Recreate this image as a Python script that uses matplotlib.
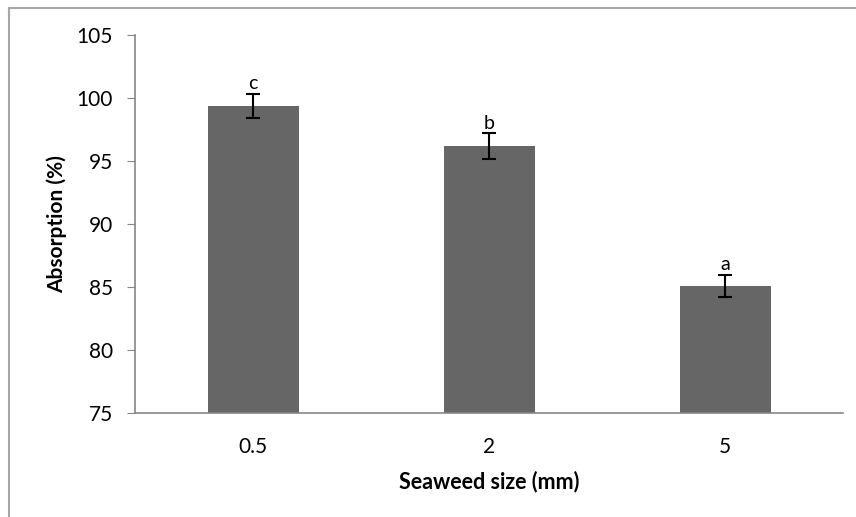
import matplotlib.pyplot as plt
import numpy as np

sizes = ["0.5", "2", "5"]
absorption = [99.4, 96.2, 85.1]
errors = [0.95, 1.0, 0.9]
letters = ["c", "b", "a"]

plt.rcParams['font.family'] = ['Lato', 'DejaVu Sans']

fig = plt.figure(figsize=(8.56, 5.17), dpi=100)
ax = fig.add_axes([0.158, 0.201, 0.827, 0.731])

x = np.arange(len(sizes))
ax.bar(x, absorption, width=0.385, color='#666666', zorder=2)
ax.errorbar(x, absorption, yerr=errors, fmt='none', ecolor='black',
            elinewidth=1.5, capsize=5, capthick=1.5, zorder=3)
for xi, v, e, l in zip(x, absorption, errors, letters):
    ax.text(xi, v + e + 0.15, l, ha='center', va='bottom', fontsize=14)

ax.set_xlim(-0.5, 2.5)
ax.set_ylim(75, 105)
ax.set_yticks(np.arange(75, 106, 5))
ax.set_xticks(x)
ax.set_xticklabels(sizes)
ax.tick_params(axis='y', length=6, color='#868686', labelsize=15, pad=10)
ax.tick_params(axis='x', length=0, labelsize=15, pad=17)
for s in ['top', 'right']:
    ax.spines[s].set_visible(False)
for s in ['left', 'bottom']:
    ax.spines[s].set_color('#868686')
    ax.spines[s].set_linewidth(1.2)

ax.set_xlabel("Seaweed size (mm)", fontsize=15.5, fontweight='bold', labelpad=10)
ax.set_ylabel("Absorption (%)", fontsize=15, fontweight='bold', labelpad=7)

# chart frame, top and left edges
fig.add_artist(plt.Line2D([0.010, 1.0], [0.985, 0.985], color='#a6a6a6', lw=1.5))
fig.add_artist(plt.Line2D([0.010, 0.010], [0.0, 0.985], color='#a6a6a6', lw=1.5))

fig.savefig("out.png", dpi=100)
